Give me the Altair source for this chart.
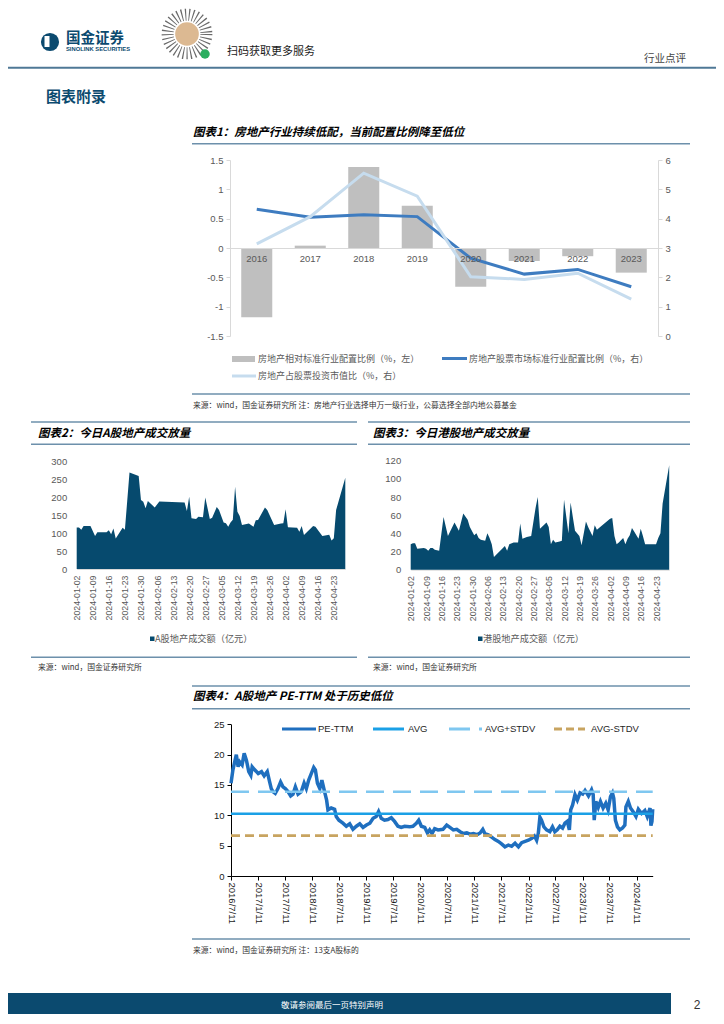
import altair as alt
import pandas as pd

# ---------------- data ----------------
years = ["2016", "2017", "2018", "2019", "2020", "2021", "2022", "2023"]
relative_alloc = [-1.18, 0.04, 1.38, 0.72, -0.66, -0.22, -0.14, -0.42]
market_alloc = [4.32, 4.05, 4.13, 4.07, 2.65, 2.11, 2.27, 1.68]
holding_ratio = [3.14, 4.07, 5.55, 4.77, 2.02, 1.93, 2.14, 1.26]

a_dates = ["2024-01-02", "2024-01-03", "2024-01-04", "2024-01-05", "2024-01-08", "2024-01-10",
           "2024-01-11", "2024-01-15", "2024-01-16", "2024-01-17", "2024-01-18", "2024-01-19",
           "2024-01-22", "2024-01-23", "2024-01-25", "2024-01-27", "2024-01-29", "2024-01-30",
           "2024-01-31", "2024-02-01", "2024-02-02", "2024-02-05", "2024-02-07", "2024-02-18",
           "2024-02-19", "2024-02-20", "2024-02-21", "2024-02-23", "2024-02-24", "2024-02-26",
           "2024-02-27", "2024-02-29", "2024-03-01", "2024-03-03", "2024-03-04", "2024-03-06",
           "2024-03-07", "2024-03-08", "2024-03-09", "2024-03-10", "2024-03-11", "2024-03-12",
           "2024-03-13", "2024-03-14", "2024-03-17", "2024-03-19", "2024-03-20", "2024-03-21",
           "2024-03-24", "2024-03-25", "2024-03-28", "2024-03-31", "2024-04-01", "2024-04-02",
           "2024-04-03", "2024-04-07", "2024-04-08", "2024-04-09", "2024-04-10", "2024-04-14",
           "2024-04-15", "2024-04-18", "2024-04-21", "2024-04-22", "2024-04-23", "2024-04-24",
           "2024-04-28"]
a_values = [116, 116, 110, 120, 120, 92,
            103, 103, 108, 97, 113, 85,
            115, 110, 270, 265, 260, 193,
            188, 170, 190, 172, 189, 186,
            162, 202, 142, 140, 146, 145,
            200, 140, 143, 173, 165, 130,
            128, 118, 130, 138, 230, 160,
            148, 123, 127, 118, 136, 137,
            172, 165, 123, 127, 128, 167,
            117, 115, 104, 120, 95, 120,
            118, 92, 96, 80, 86, 165,
            255]

hk_dates = ["2024-01-02", "2024-01-03", "2024-01-04", "2024-01-05", "2024-01-08", "2024-01-09",
            "2024-01-10", "2024-01-11", "2024-01-12", "2024-01-13", "2024-01-15", "2024-01-17",
            "2024-01-19", "2024-01-22", "2024-01-24", "2024-01-26", "2024-01-28", "2024-01-29",
            "2024-01-31", "2024-02-01", "2024-02-02", "2024-02-03", "2024-02-05", "2024-02-06",
            "2024-02-07", "2024-02-08", "2024-02-09", "2024-02-14", "2024-02-15", "2024-02-16",
            "2024-02-18", "2024-02-20", "2024-02-21", "2024-02-22", "2024-02-24", "2024-02-26",
            "2024-02-28", "2024-02-29", "2024-03-01", "2024-03-04", "2024-03-05", "2024-03-06",
            "2024-03-07", "2024-03-08", "2024-03-10", "2024-03-11", "2024-03-12", "2024-03-14",
            "2024-03-15", "2024-03-16", "2024-03-17", "2024-03-19", "2024-03-20", "2024-03-22",
            "2024-03-23", "2024-03-25", "2024-03-26", "2024-03-27", "2024-04-02", "2024-04-03",
            "2024-04-04", "2024-04-05", "2024-04-06", "2024-04-08", "2024-04-09", "2024-04-10",
            "2024-04-11", "2024-04-12", "2024-04-13", "2024-04-15", "2024-04-16", "2024-04-17",
            "2024-04-18", "2024-04-23", "2024-04-24", "2024-04-25", "2024-04-26", "2024-04-29"]
hk_values = [28, 29, 29, 23, 24, 23,
             21, 24, 24, 22, 21, 58,
             37, 52, 43, 62, 55, 47,
             38, 40, 35, 33, 32, 40,
             35, 28, 14, 26, 21, 28,
             30, 30, 51, 34, 36, 37,
             68, 80, 45, 52, 47, 28,
             33, 30, 31, 32, 77, 40,
             74, 58, 43, 37, 27, 53,
             47, 37, 49, 44, 56, 57,
             37, 28, 30, 35, 28, 34,
             38, 46, 42, 34, 45, 37,
             28, 28, 35, 40, 73, 115]

week_ticks = ["2024-01-02", "2024-01-09", "2024-01-16", "2024-01-23", "2024-01-30", "2024-02-06",
              "2024-02-13", "2024-02-20", "2024-02-27", "2024-03-05", "2024-03-12", "2024-03-19",
              "2024-03-26", "2024-04-02", "2024-04-09", "2024-04-16", "2024-04-23"]

pe_dates = ["2016-07-11", "2016-07-24", "2016-08-16", "2016-08-28", "2016-09-08", "2016-09-24",
            "2016-10-08", "2016-10-23", "2016-11-08", "2016-11-22", "2016-12-01", "2016-12-18",
            "2017-01-11", "2017-02-02", "2017-02-20", "2017-03-13", "2017-03-29", "2017-04-09",
            "2017-04-20", "2017-05-06", "2017-05-24", "2017-06-11", "2017-06-27", "2017-07-13",
            "2017-07-31", "2017-08-18", "2017-09-03", "2017-09-19", "2017-10-07", "2017-10-29",
            "2017-11-17", "2017-12-02", "2017-12-18", "2018-01-05", "2018-01-21", "2018-02-01",
            "2018-02-15", "2018-03-03", "2018-03-17", "2018-04-04", "2018-04-18", "2018-04-27",
            "2018-05-19", "2018-06-11", "2018-06-22", "2018-07-10", "2018-08-06", "2018-08-29",
            "2018-09-21", "2018-10-13", "2018-11-05", "2018-11-28", "2018-12-20", "2019-01-12",
            "2019-02-04", "2019-02-26", "2019-03-19", "2019-04-04", "2019-04-22", "2019-05-14",
            "2019-06-06", "2019-06-29", "2019-07-21", "2019-08-13", "2019-09-04", "2019-09-27",
            "2019-10-30", "2019-11-22", "2019-12-15", "2019-12-31", "2020-01-18", "2020-02-10",
            "2020-02-28", "2020-03-14", "2020-03-30", "2020-04-17", "2020-05-10", "2020-06-12",
            "2020-07-07", "2020-07-29", "2020-08-21", "2020-09-13", "2020-10-06", "2020-10-28",
            "2020-11-20", "2020-12-12", "2021-01-04", "2021-01-27", "2021-02-18", "2021-03-08",
            "2021-03-22", "2021-04-14", "2021-05-07", "2021-05-29", "2021-06-21", "2021-07-13",
            "2021-08-05", "2021-08-28", "2021-09-19", "2021-10-12", "2021-11-04", "2021-11-26",
            "2021-12-19", "2022-01-10", "2022-02-02", "2022-02-20", "2022-03-07", "2022-03-18",
            "2022-03-29", "2022-04-09", "2022-04-25", "2022-05-13", "2022-06-04", "2022-06-22",
            "2022-07-08", "2022-07-24", "2022-08-11", "2022-08-29", "2022-09-14", "2022-09-30",
            "2022-10-14", "2022-10-23", "2022-11-05", "2022-11-21", "2022-12-07", "2022-12-25",
            "2023-01-12", "2023-01-28", "2023-02-20", "2023-03-13", "2023-03-24", "2023-03-31",
            "2023-04-11", "2023-04-27", "2023-05-12", "2023-05-30", "2023-06-17", "2023-07-03",
            "2023-07-19", "2023-08-01", "2023-08-10", "2023-08-21", "2023-09-04", "2023-09-20",
            "2023-10-08", "2023-10-24", "2023-10-31", "2023-11-16", "2023-12-01", "2023-12-19",
            "2024-01-07", "2024-01-23", "2024-02-14", "2024-03-07", "2024-03-23", "2024-04-11",
            "2024-04-17", "2024-04-24", "2024-04-29"]
pe_values = [15.3, 17.5, 20.0, 18.0, 18.8, 18.3,
             20.2, 19.1, 17.2, 16.6, 18.0, 17.5,
             16.9, 17.2, 16.5, 17.2, 15.5, 14.4,
             13.9, 13.6, 14.4, 15.5, 14.7, 14.4,
             13.9, 13.2, 13.5, 14.7, 13.5, 13.9,
             15.3, 14.4, 15.8, 16.9, 17.9, 17.5,
             15.3, 14.4, 15.8, 13.9, 12.5, 10.9,
             11.2, 11.0, 9.8, 9.2, 8.7, 8.2,
             8.6, 7.7, 8.2, 8.6, 8.0, 8.4,
             8.7, 9.5, 9.8, 10.6, 9.5, 9.2,
             9.3, 9.6, 9.0, 8.2, 8.0, 8.2,
             8.1, 8.2, 8.7, 9.2, 8.2, 8.0,
             7.1, 7.6, 7.0, 7.8, 7.6, 7.7,
             8.4, 8.0, 7.6, 7.7, 7.3, 7.0,
             7.1, 6.9, 7.0, 6.8, 7.1, 7.7,
             7.0, 6.8, 6.4, 6.0, 5.7, 5.3,
             4.8, 5.1, 4.9, 5.4, 4.8, 5.5,
             5.7, 5.9, 6.2, 6.6, 5.9, 7.0,
             9.7, 9.2, 8.1, 7.6, 7.3, 8.1,
             7.3, 7.6, 8.2, 7.9, 8.7, 9.0,
             7.6, 10.9, 11.7, 13.4, 12.5, 13.7,
             13.5, 14.1, 13.2, 14.2, 13.4, 9.2,
             12.3, 11.3, 12.3, 11.2, 12.0, 10.9,
             13.1, 13.7, 12.8, 9.2, 8.1, 7.6,
             7.9, 8.4, 11.4, 12.3, 11.2, 10.6,
             9.8, 11.0, 10.3, 10.8, 9.8, 11.2,
             8.3, 9.0, 11.0]
pe_avg = 10.27
pe_stdv = 3.62
pe_ticks = ["2016-07-11", "2017-01-11", "2017-07-11", "2018-01-11", "2018-07-11", "2019-01-11",
            "2019-07-11", "2020-01-11", "2020-07-11", "2021-01-11", "2021-07-11", "2022-01-11",
            "2022-07-11", "2023-01-11", "2023-07-11", "2024-01-11"]

# ---------------- layout helpers ----------------
W, H = 708, 1006
OX, OY = 8, 8
CJK = "Noto Sans CJK SC"
SANS = "Liberation Sans, Noto Sans CJK SC"
NAVY = "#0b4a6f"
SECTION = "#6d90ab"
ONE = alt.Data(values=[{}])


def px(x):
    return x - OX


def py(y):
    return y - OY


def dt(s):
    y, m, d = (int(v) for v in s.split("-"))
    return alt.DateTime(year=y, month=m, date=d, utc=True)


def text(s, x, y, size=9, color="#000000", weight="normal", style="normal", align="left", font=CJK):
    return alt.Chart(ONE).mark_text(
        text=s, fontSize=size, color=color, fontWeight=weight, fontStyle=style,
        align=align, baseline="middle", font=font
    ).encode(x=alt.value(px(x)), y=alt.value(py(y)))


def hline(x1, x2, y, color, width=1.0, dash=None):
    kw = dict(color=color, strokeWidth=width)
    if dash:
        kw["strokeDash"] = dash
    return alt.Chart(ONE).mark_rule(**kw).encode(
        x=alt.value(px(x1)), x2=alt.value(px(x2)), y=alt.value(py(y)))


def rect(x1, x2, y1, y2, color):
    return alt.Chart(ONE).mark_rect(color=color).encode(
        x=alt.value(px(x1)), x2=alt.value(px(x2)), y=alt.value(py(y1)), y2=alt.value(py(y2)))


def dot(x, y, size, color, filled=True, sw=1, dash=None):
    kw = dict(shape="circle", filled=filled, size=size, color=color, opacity=1, strokeWidth=sw)
    if dash:
        kw["strokeDash"] = dash
    return alt.Chart(ONE).mark_point(**kw).encode(x=alt.value(px(x)), y=alt.value(py(y)))


layers = []

# ---------------- header ----------------
layers += [
    dot(50, 42, 330, NAVY),
    rect(44.5, 49.5, 36, 47, "white"),
    text("国金证券", 66, 38.5, 14.5, NAVY, "bold"),
    text("SINOLINK SECURITIES", 66, 48.5, 5.8, NAVY, "bold", font=SANS),
    dot(187, 34, 1500, "#6a6a6a", filled=False, sw=12, dash=[1.1, 2.6]),
    dot(187, 34, 560, "#dcb992"),
    dot(205, 54, 90, "#2aae5f"),
    text("扫码获取更多服务", 227, 52, 11, "#1a1a1a"),
    text("行业点评", 644, 59, 10.5, "#444444"),
    hline(OX, OX + W, 67.7, "#4f7896", 2),
    text("图表附录", 46, 97, 15, NAVY, "bold"),
]

# ---------------- chart 1 ----------------
c1 = pd.DataFrame({"year": years, "rel": relative_alloc, "mkt": market_alloc, "hold": holding_ratio})
axis_gray = "#d9d9d9"
lab_gray = "#595959"
xband = alt.Scale(type="band", domain=years, range=[px(230), px(658)], paddingInner=0.42, paddingOuter=0.21)
xpoint = alt.Scale(type="point", domain=years, range=[px(230), px(658)], padding=0.5)
yleft = alt.Scale(domain=[-1.5, 1.5], range=[py(336), py(160)], nice=False)
yright = alt.Scale(domain=[0, 6], range=[py(336), py(160)], nice=False, zero=False)

bars1 = alt.Chart(c1).mark_bar(color="#bfbfbf").encode(
    x=alt.X("year:N", scale=xband, sort=years, axis=alt.Axis(
        orient="bottom", offset=py(248) - H, title=None, labelAngle=0, ticks=False, tickSize=0,
        labelPadding=5, domainColor=axis_gray, labelColor=lab_gray, labelFontSize=9.5,
        labelFont=SANS, zindex=1, grid=False)),
    y=alt.Y("rel:Q", scale=yleft, axis=alt.Axis(
        orient="left", offset=-px(230), title=None, values=[-1.5, -1, -0.5, 0, 0.5, 1, 1.5],
        labelExpr="toString(datum.value)", grid=False, domainColor=axis_gray, tickColor=axis_gray,
        tickSize=4, labelPadding=3, labelColor=lab_gray, labelFontSize=9.5, labelFont=SANS)),
)
line_mkt = alt.Chart(c1).mark_line(color="#3e7cc0", strokeWidth=3).encode(
    x=alt.X("year:N", scale=xpoint, sort=years, axis=None),
    y=alt.Y("mkt:Q", scale=yright, axis=alt.Axis(
        orient="right", offset=px(658) - W, title=None, values=[0, 1, 2, 3, 4, 5, 6], grid=False,
        domainColor=axis_gray, tickColor=axis_gray, tickSize=4, labelPadding=3,
        labelColor=lab_gray, labelFontSize=9.5, labelFont=SANS)),
)
line_hold = alt.Chart(c1).mark_line(color="#c6dcee", strokeWidth=3).encode(
    x=alt.X("year:N", scale=xpoint, sort=years, axis=None),
    y=alt.Y("hold:Q", scale=yright, axis=None),
)
layers += [
    text("图表1：房地产行业持续低配，当前配置比例降至低位", 193, 133, 11.5, "#000000", "bold", "italic"),
    hline(192, 690, 143.8, SECTION, 1.5),
    bars1, line_mkt, line_hold,
    rect(232, 255, 356, 362, "#bfbfbf"),
    text("房地产相对标准行业配置比例（%，左）", 258, 359, 9, lab_gray),
    hline(442, 467, 358.5, "#3e7cc0", 3),
    text("房地产股票市场标准行业配置比例（%，右）", 469, 359, 9, lab_gray),
    hline(232, 256, 376, "#c6dcee", 3),
    text("房地产占股票投资市值比（%，右）", 258, 376, 9, lab_gray),
    hline(192, 690, 394, SECTION, 1.5),
    text("来源：wind，国金证券研究所  注：房地产行业选择申万一级行业，公募选择全部内地公募基金", 193, 406, 7.8, "#333333"),
]

# ---------------- charts 2 and 3 ----------------
AREA = "#064a6e"


def area_chart(dates, values, end, x0, x1, y0, y1, ymax, ystep):
    df = pd.DataFrame({"date": dates, "v": values})
    xs = alt.Scale(type="utc", domain=[dt("2024-01-02"), dt(end)], range=[px(x0), px(x1)])
    ys = alt.Scale(domain=[0, ymax], range=[py(y0), py(y1)], nice=False)
    return alt.Chart(df).mark_area(color=AREA, opacity=1).encode(
        x=alt.X("date:T", scale=xs, axis=alt.Axis(
            orient="bottom", offset=py(y0) - H, title=None, values=[dt(s) for s in week_ticks],
            labelExpr="utcFormat(datum.value, '%Y-%m-%d')", labelAngle=270, labelPadding=6,
            ticks=False, tickSize=0, domainColor=axis_gray, labelColor=lab_gray, labelFontSize=8.8,
            labelFont=SANS, labelFlush=False, labelOverlap=False, grid=False)),
        y=alt.Y("v:Q", scale=ys, axis=alt.Axis(
            orient="left", offset=-px(x0), title=None, values=list(range(0, ymax + 1, ystep)),
            domain=False, ticks=False, tickSize=0, labelPadding=10, labelColor=lab_gray,
            labelFontSize=9.5, labelFont=SANS, grid=False)),
    )


layers += [
    hline(31, 357, 422, SECTION, 1.5),
    hline(368, 690, 422, SECTION, 1.5),
    text("图表2：今日A股地产成交放量", 38, 433.5, 11.5, "#000000", "bold", "italic"),
    text("图表3：今日港股地产成交放量", 373, 433.5, 11.5, "#000000", "bold", "italic"),
    hline(31, 357, 444.3, SECTION, 1.5),
    hline(368, 690, 444.3, SECTION, 1.5),
    area_chart(a_dates, a_values, "2024-04-28", 76.7, 345.3, 569, 461.7, 300, 50),
    area_chart(hk_dates, hk_values, "2024-04-29", 410.7, 669.2, 569.7, 460.7, 120, 20),
    rect(150, 154.5, 636.5, 641, AREA),
    text("A股地产成交额（亿元）", 155, 639, 9.2, lab_gray),
    rect(478, 482.5, 636.5, 641, AREA),
    text("港股地产成交额（亿元）", 483, 639, 9.2, lab_gray),
    hline(31, 357, 657.3, SECTION, 1.5),
    hline(368, 690, 657.3, SECTION, 1.5),
    text("来源：wind，国金证券研究所", 38, 668, 7.8, "#333333"),
    text("来源：wind，国金证券研究所", 373, 668, 7.8, "#333333"),
]

# ---------------- chart 4 ----------------
pe_df = pd.DataFrame({"date": pe_dates, "v": pe_values})
x4 = alt.Scale(type="utc", domain=[dt(pe_dates[0]), dt(pe_dates[-1])], range=[px(231), px(652.7)])
y4 = alt.Scale(domain=[0, 25], range=[py(876), py(724.3)], nice=False)
PE_C, AVG_C, UP_C, DN_C = "#1f6fbf", "#1aa0e6", "#7fc7f0", "#c8a460"

pe_line = alt.Chart(pe_df).mark_line(color=PE_C, strokeWidth=3.5).encode(
    x=alt.X("date:T", scale=x4, axis=alt.Axis(
        orient="bottom", offset=py(876) - H, title=None, values=[dt(s) for s in pe_ticks],
        labelExpr="utcFormat(datum.value, '%Y/%-m/%-d')", labelAngle=90, labelPadding=2,
        tickSize=4, tickColor="#000000", domainColor="#000000", labelColor="#1a1a1a",
        labelFontSize=9.5, labelFont=SANS, labelFlush=False, labelOverlap=False, grid=False)),
    y=alt.Y("v:Q", scale=y4, axis=alt.Axis(
        orient="left", offset=-px(231), title=None, values=[0, 5, 10, 15, 20, 25],
        tickSize=4, tickColor="#000000", domainColor="#000000", labelPadding=3,
        labelColor="#1a1a1a", labelFontSize=9.5, labelFont=SANS, grid=False)),
)


def level_line(value, color, dash=None):
    df = pd.DataFrame({"date": [pe_dates[0], pe_dates[-1]], "v": [value, value]})
    kw = dict(color=color, strokeWidth=2.6)
    if dash:
        kw["strokeDash"] = dash
    return alt.Chart(df).mark_line(**kw).encode(
        x=alt.X("date:T", scale=x4, axis=None),
        y=alt.Y("v:Q", scale=y4, axis=None),
    )


layers += [
    hline(192, 690, 686, SECTION, 1.5),
    text("图表4：A股地产 PE-TTM 处于历史低位", 193, 697.3, 11.5, "#000000", "bold", "italic"),
    hline(192, 690, 708.7, SECTION, 1.5),
    pe_line,
    level_line(pe_avg, AVG_C),
    level_line(pe_avg + pe_stdv, UP_C, [18, 9]),
    level_line(pe_avg - pe_stdv, DN_C, [9, 5]),
    hline(282, 316, 729, PE_C, 3),
    text("PE-TTM", 318, 729, 9.5, "#262626", font=SANS),
    hline(373, 404, 729, AVG_C, 3),
    text("AVG", 408, 729, 9.5, "#262626", font=SANS),
    hline(449, 482, 729, UP_C, 3, [21, 9]),
    text("AVG+STDV", 485, 729, 9.5, "#262626", font=SANS),
    hline(554, 585, 729, DN_C, 3, [8, 4]),
    text("AVG-STDV", 591, 729, 9.5, "#262626", font=SANS),
    hline(192, 690, 939, SECTION, 1.5),
    text("来源：wind，国金证券研究所  注：13支A股标的", 193, 951, 7.8, "#333333"),
]

# ---------------- footer ----------------
layers += [
    rect(OX, 671, 993, OY + H, NAVY),
    text("敬请参阅最后一页特别声明", 332, 1005, 8.5, "#ffffff", align="center"),
    text("2", 697, 1005, 12, "#333333", align="center", font=SANS),
]

chart = alt.layer(*layers).resolve_scale(x="independent", y="independent").properties(
    width=W, height=H, padding=0, autosize=alt.AutoSizeParams(type="none"),
    background="white",
).configure_view(stroke=None)

chart.save("out.html", embed_options={"renderer": "svg", "actions": False})
